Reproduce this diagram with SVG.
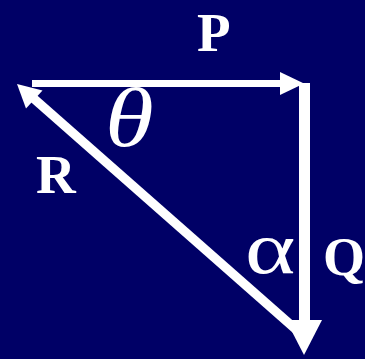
<svg xmlns="http://www.w3.org/2000/svg" width="365" height="359" viewBox="0 0 365 359">
<style>
.vec{stroke:#fff;fill:none}
.head{fill:#fff;stroke:none}
.lbl{font-family:"Liberation Serif","Times New Roman",serif;fill:#fff;font-weight:bold}
.greek{font-family:"Liberation Serif","Times New Roman",serif;fill:#fff}
</style>
<rect x="0" y="0" width="365" height="359" fill="#000066"/>
<g id="connectors">
<g id="P-vector">
<line class="vec" x1="32" y1="83.5" x2="284" y2="83.5" stroke-width="7"/>
<polygon class="head" points="280,72 304,83.5 280,95"/>
</g>
<g id="Q-vector">
<line class="vec" x1="304.5" y1="83" x2="304.5" y2="322" stroke-width="11"/>
<polygon class="head" points="286,320 322,320 304,355"/>
</g>
<g id="R-vector">
<line class="vec" x1="300" y1="333" x2="32" y2="97" stroke-width="9"/>
<polygon class="head" points="17,84 42.5,90.5 26,108.5"/>
</g>
</g>
<g id="label-P"><text class="lbl" x="197" y="50.5" font-size="55">P</text></g>
<g id="label-R"><text class="lbl" x="36" y="193.3" font-size="55">R</text></g>
<g id="label-Q"><text class="lbl" x="323" y="274.5" font-size="54">Q</text></g>
<g id="label-theta"><text class="greek" transform="translate(105,145.5) scale(1.18,1)" font-size="84" font-style="italic">θ</text></g>
<g id="label-alpha"><text class="greek" transform="translate(245,272.5) scale(1.3,1)" font-size="74">α</text></g>
</svg>
